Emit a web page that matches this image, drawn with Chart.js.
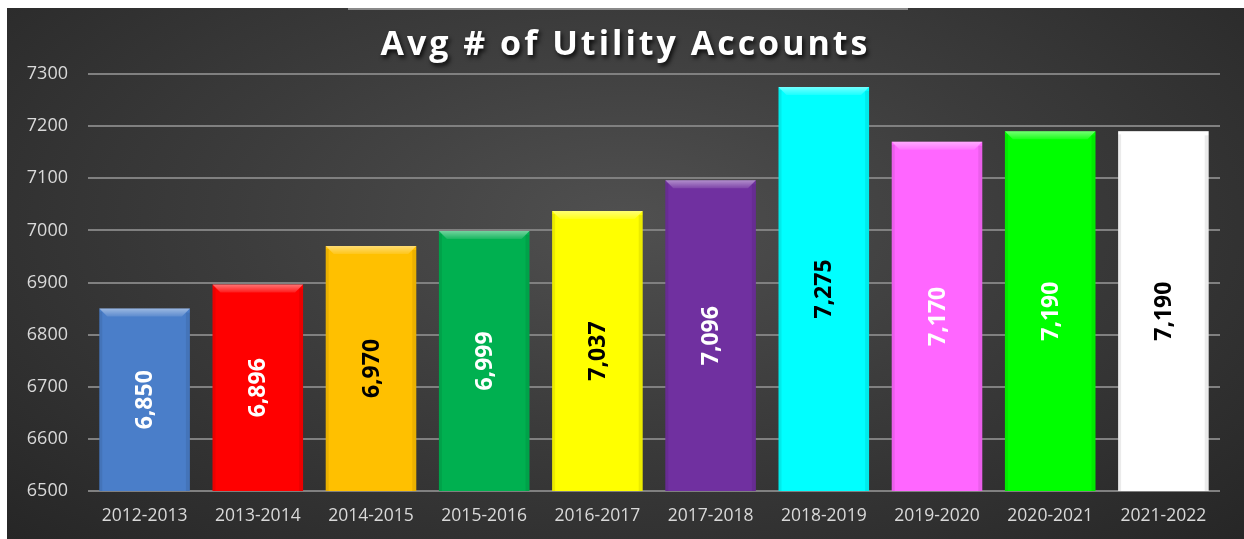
<!DOCTYPE html>
<html>
<head>
<meta charset="utf-8">
<script src="https://cdn.jsdelivr.net/npm/chart.js@4.4.1/dist/chart.umd.min.js"></script>
<style>
  html, body { margin: 0; padding: 0; background: #fff; }
  #box {
    position: absolute; left: 7px; top: 8px; width: 1237px; height: 531px;
    background: radial-gradient(ellipse at 50% 40%, #505050 0%, #3c3c3c 45%, #262626 100%);
  }
  #topline {
    position: absolute; left: 341px; top: 0; width: 560px; height: 2px; background: #8a8a8a;
  }
</style>
</head>
<body>
<div id="box">
  <div id="topline"></div>
  <canvas id="chart" width="1237" height="531"></canvas>
</div>
<script>
const title = "Avg # of Utility Accounts";
const years = ["2012-2013","2013-2014","2014-2015","2015-2016","2016-2017","2017-2018","2018-2019","2019-2020","2020-2021","2021-2022"];
const accounts = [6850, 6896, 6970, 6999, 7037, 7096, 7275, 7170, 7190, 7190];
const barColors = ["#4a7ec9","#ff0000","#ffc000","#00b050","#ffff00","#7030a0","#00ffff","#ff66ff","#00ff00","#ffffff"];
const labelColors = ["#fff","#fff","#000","#fff","#000","#fff","#000","#fff","#fff","#000"];
const yTicks = { min: 6500, max: 7300, step: 100 };

// bevel + rotated value labels + title
const barDecor = {
  id: 'barDecor',
  afterDatasetsDraw(chart) {
    const ctx = chart.ctx;
    const yScale = chart.scales.y;
    const base = yScale.getPixelForValue(yScale.min);
    const meta = chart.getDatasetMeta(0);
    meta.data.forEach((bar, i) => {
      const x = bar.x, y = bar.y, width = bar.width;
      const l = x - width / 2, r = x + width / 2, b = 8;
      ctx.save();
      // top bevel
      const g = ctx.createLinearGradient(0, y, 0, y + b);
      g.addColorStop(0, 'rgba(255,255,255,0.45)');
      g.addColorStop(1, 'rgba(255,255,255,0.1)');
      ctx.fillStyle = g;
      ctx.beginPath();
      ctx.moveTo(l, y); ctx.lineTo(r, y); ctx.lineTo(r - b, y + b); ctx.lineTo(l + b, y + b);
      ctx.closePath(); ctx.fill();
      // side shading
      ctx.fillStyle = 'rgba(0,0,0,0.08)';
      ctx.fillRect(r - 4, y + 4, 4, base - y - 4);
      ctx.fillRect(l, y + 3, 3, base - y - 3);
      // value label
      ctx.translate(x, (y + base) / 2);
      ctx.rotate(-Math.PI / 2);
      ctx.fillStyle = labelColors[i];
      ctx.font = 'bold 23px "Open Sans", sans-serif';
      ctx.textAlign = 'center';
      ctx.textBaseline = 'middle';
      ctx.fillText(accounts[i].toLocaleString('en-US'), 0, 1);
      ctx.restore();
    });
    // title with shadow
    ctx.save();
    ctx.font = 'bold 34px "Open Sans", sans-serif';
    ctx.letterSpacing = '3px';
    ctx.textAlign = 'center';
    ctx.textBaseline = 'middle';
    ctx.shadowColor = 'rgba(0,0,0,0.8)';
    ctx.shadowOffsetX = 2; ctx.shadowOffsetY = 3; ctx.shadowBlur = 4;
    ctx.fillStyle = '#ffffff';
    ctx.fillText(title, chart.width / 2, 37);
    ctx.restore();
  }
};

new Chart(document.getElementById('chart').getContext('2d'), {
  type: 'bar',
  data: {
    labels: years,
    datasets: [{
      data: accounts,
      backgroundColor: barColors,
      borderWidth: 0,
      barPercentage: 0.8,
      categoryPercentage: 1
    }]
  },
  options: {
    responsive: false,
    animation: false,
    layout: { padding: { top: 66, right: 24, left: 0, bottom: 0 } },
    plugins: { legend: { display: false }, tooltip: { enabled: false } },
    scales: {
      x: {
        grid: { display: false, drawTicks: false },
        border: { display: false },
        ticks: { color: '#d9d9d9', font: { family: '"Open Sans", sans-serif', size: 17.5 }, padding: 15, maxRotation: 0 },
        afterFit: s => { s.height = 48; }
      },
      y: {
        min: yTicks.min, max: yTicks.max,
        grid: { color: '#808080', lineWidth: 2, drawTicks: false },
        border: { display: false },
        ticks: { stepSize: yTicks.step, color: '#d9d9d9', font: { family: '"Open Sans", sans-serif', size: 18 }, padding: 20,
                 callback: v => String(v) },
        afterFit: s => { s.width = 81; }
      }
    }
  },
  plugins: [barDecor]
});
</script>
</body>
</html>
